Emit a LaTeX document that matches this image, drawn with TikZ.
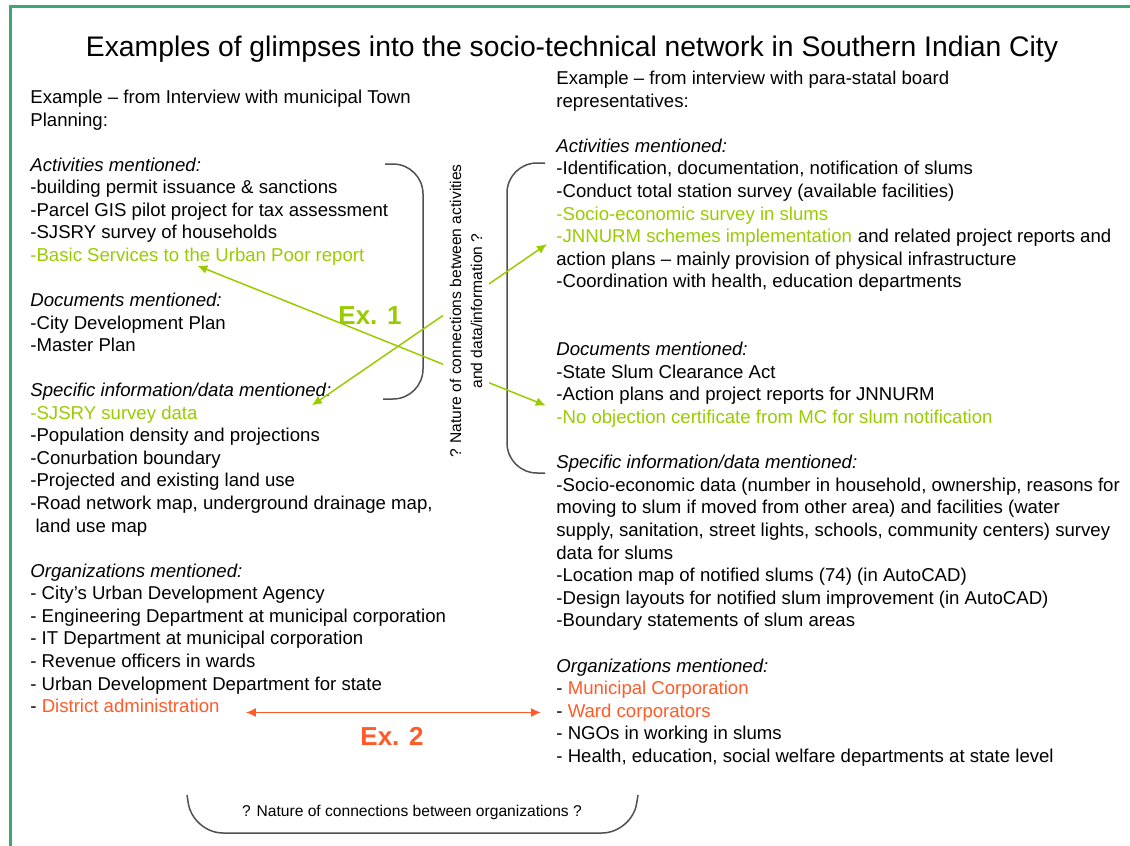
\documentclass[tikz,border=0pt]{standalone}
\usepackage{fontspec}
\setsansfont{Liberation Sans}
\usetikzlibrary{arrows.meta}
\definecolor{lime1}{HTML}{99CC00}
\definecolor{red1}{HTML}{FF5A28}
\definecolor{frame1}{HTML}{3DA672}
\definecolor{grey1}{HTML}{505050}

\begin{document}
\begin{tikzpicture}[x=0.5pt,y=-0.5pt,font=\sffamily,
    txt/.style={anchor=base west,inner sep=0pt,align=left,font=\sffamily\fontsize{9.3}{11.3}\selectfont},
    small/.style={font=\sffamily\fontsize{7.8}{10.5}\selectfont},
    exlabel/.style={anchor=base,font=\sffamily\bfseries\fontsize{13}{15}\selectfont},
    link/.style={line width=0.75pt,{Latex[length=5pt,width=4.5pt]}-{Latex[length=5pt,width=4.5pt]}}]
\useasboundingbox (0,0) rectangle (1130,846);
\clip (0,0) rectangle (1130,846);

% Frame and title
\draw [frame1,line width=1.5pt] (10,6) rectangle (1160,880);
\node [anchor=base,font=\sffamily\fontsize{14.15}{17}\selectfont] (title) at (572,56)
    {Examples of glimpses into the socio-technical network in Southern Indian City};

% Left column: municipal town planning
% (a block's base is the baseline of its last line)
\node [txt] (intro_l) at (30,126.1) {Example -- from Interview with municipal Town\\Planning:};
\node [txt] (act_l) at (30,238.9) {\textit{Activities mentioned:}\\-building permit issuance \& sanctions\\-Parcel GIS pilot project for tax assessment\\-SJSRY survey of households};
\node [txt,lime1] (bsup) at (30,261.4) {-Basic Services to the Urban Poor report};
\node [txt] (doc_l) at (30,351.6) {\textit{Documents mentioned:}\\-City Development Plan\\-Master Plan};
\node [txt] (spec_l) at (30,396.7) {\textit{Specific information/data mentioned:}};
\node [txt,lime1] (sjsry) at (30,419.3) {-SJSRY survey data};
\node [txt] (data_l) at (30,532.1) {-Population density and projections\\-Conurbation boundary\\-Projected and existing land use\\-Road network map, underground drainage map,\\\ land use map};
\node [txt] (org_l) at (30,690.0) {\textit{Organizations mentioned:}\\- City's Urban Development Agency\\- Engineering Department at municipal corporation\\- IT Department at municipal corporation\\- Revenue officers in wards\\- Urban Development Department for state};
\node [txt] (district) at (30,712.6) {- \textcolor{red1}{District administration}};

% Right column: para-statal board
\node [txt] (intro_r) at (556,107.1) {Example -- from interview with para-statal board\\representatives:};
\node [txt] (act_r) at (556,197.5) {\textit{Activities mentioned:}\\-Identification, documentation, notification of slums\\-Conduct total station survey (available facilities)};
\node [txt,lime1] (socsurv) at (556,220.1) {-Socio-economic survey in slums};
\node [txt,lime1] (jnnurm) at (556,242.7) {-JNNURM schemes implementation};
\node [txt] (jnnurm_rest) at (jnnurm.base east) {\ and related project reports and};
\node [txt] (plans) at (556,287.9) {action plans -- mainly provision of physical infrastructure\\-Coordination with health, education departments};
\node [txt] (doc_r) at (556,400.7) {\textit{Documents mentioned:}\\-State Slum Clearance Act\\-Action plans and project reports for JNNURM};
\node [txt,lime1] (noobj) at (556,423.5) {-No objection certificate from MC for slum notification};
\node [txt] (spec_r) at (556,626.9) {\textit{Specific information/data mentioned:}\\-Socio-economic data (number in household, ownership, reasons for\\moving to slum if moved from other area) and facilities (water\\supply, sanitation, street lights, schools, community centers) survey\\data for slums\\-Location map of notified slums (74) (in AutoCAD)\\-Design layouts for notified slum improvement (in AutoCAD)\\-Boundary statements of slum areas};
\node [txt] (org_r) at (556,694.7) {\textit{Organizations mentioned:}\\- \textcolor{red1}{Municipal Corporation}};
\node [txt] (wardc) at (556,717.3) {- \textcolor{red1}{Ward corporators}};
\node [txt] (org_r2) at (556,762.5) {- NGOs in working in slums\\- Health, education, social welfare departments at state level};

% Brackets
\begin{scope}[grey1,line width=0.75pt,rounded corners=15pt]
\draw (385,164) -- (423,164) -- (423,399) -- (383,399);
\draw (545,163) -- (507,163) -- (507,473) -- (545,473);
\draw (187,795) -- (193,833) -- (632,833) -- (638,795);
\end{scope}

% Links between activities and data
\begin{scope}[lime1,every path/.style={draw,link,shorten >=5.5pt}]
\path (bsup.south) -- (noobj.north west);
\path ([xshift=57pt]sjsry.north east) -- (jnnurm.west);
\end{scope}
\node [rotate=90,fill=white,align=center,inner sep=3.4pt,small] (qact) at (466,311)
    {? Nature of connections between activities\\and data/information ?};
\node [exlabel,lime1] (ex1) at (370,324) {Ex. 1};

% Link between organizations
\draw [red1,link,shorten <=13pt,shorten >=7.5pt] (district.east |- wardc.west) -- (wardc.west);
\node [exlabel,red1] (ex2) at (392,745) {Ex. 2};
\node [small,anchor=base] (qorg) at (412,816) {? Nature of connections between organizations ?};
\end{tikzpicture}
\end{document}
